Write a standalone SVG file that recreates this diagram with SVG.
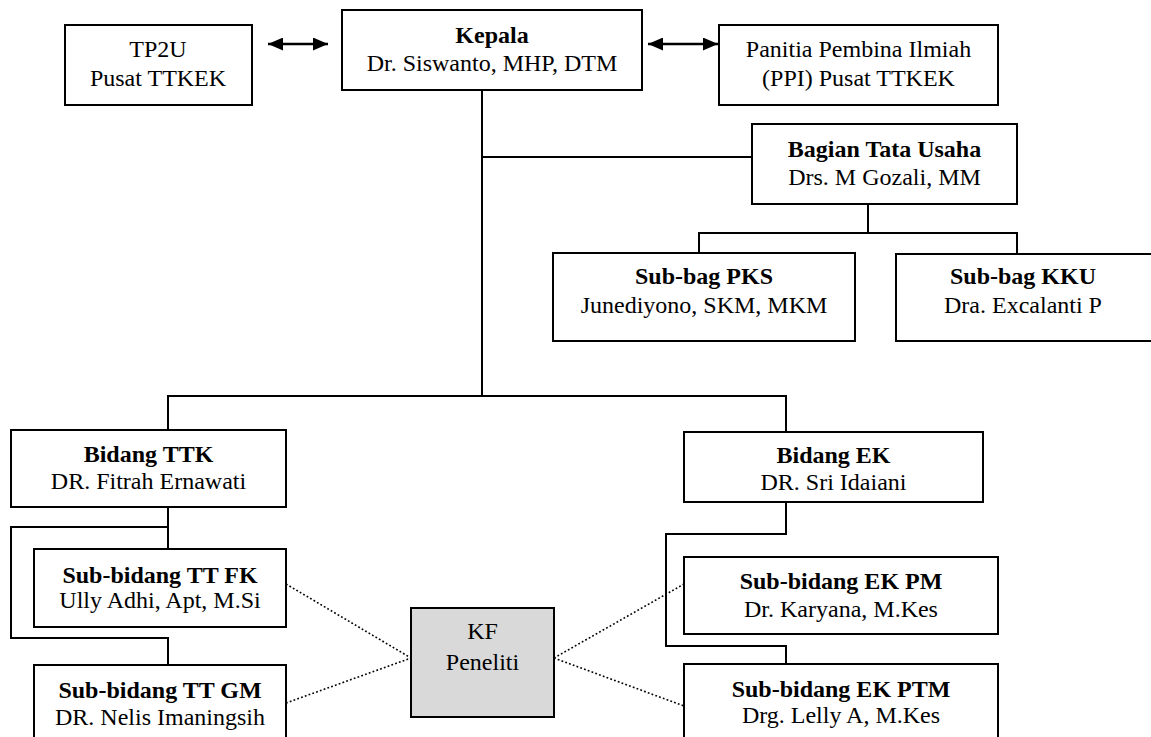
<svg xmlns="http://www.w3.org/2000/svg" width="1151" height="737" viewBox="0 0 1151 737">
<style>
.box{fill:#fff;stroke:#000;stroke-width:2}
.kf{fill:#d9d9d9;stroke:#000;stroke-width:2}
.ln{fill:none;stroke:#000;stroke-width:2}
.dot{fill:none;stroke:#000;stroke-width:1.6;stroke-dasharray:1.8 2.2}
.arr{fill:none;stroke:#000;stroke-width:2.5;marker-start:url(#ah);marker-end:url(#ah)}
text{font-family:"Liberation Serif","Times New Roman",serif;font-size:24px;text-anchor:middle;fill:#000}
.b{font-weight:bold}
</style>
<defs>
<marker id="ah" viewBox="0 0 15 13" refX="15" refY="6.5" markerWidth="15" markerHeight="13" orient="auto-start-reverse" markerUnits="userSpaceOnUse">
<path d="M0,0 L15,6.5 L0,13 z" fill="#000"/>
</marker>
</defs>
<rect width="1151" height="737" fill="#fff"/>
<g id="connectors">
<line class="arr" x1="268" y1="44" x2="328" y2="44"/>
<line class="arr" x1="648" y1="44" x2="718" y2="44"/>
<polyline class="ln" points="482,90 482,396"/>
<polyline class="ln" points="482,157 752,157"/>
<polyline class="ln" points="868,204 868,233"/>
<polyline class="ln" points="699,253 699,233 1017,233 1017,253"/>
<polyline class="ln" points="168,430 168,396 786,396 786,432"/>
<polyline class="ln" points="168,507 168,549"/>
<polyline class="ln" points="168,527 11,527 11,638 168,638 168,665"/>
<polyline class="ln" points="786,502 786,534 666,534 666,646 786,646 786,664"/>
<line class="dot" x1="286" y1="584" x2="411" y2="658"/>
<line class="dot" x1="286" y1="703" x2="411" y2="658"/>
<line class="dot" x1="554" y1="658" x2="684" y2="584"/>
<line class="dot" x1="554" y1="658" x2="684" y2="706"/>
</g>
<g id="tp2u">
<rect class="box" x="65" y="25" width="187" height="80"/>
<text x="158" y="57">TP2U</text>
<text x="158" y="86">Pusat TTKEK</text>
</g>
<g id="kepala">
<rect class="box" x="342" y="10" width="300" height="80"/>
<text x="492" y="43" class="b">Kepala</text>
<text x="492" y="71">Dr. Siswanto, MHP, DTM</text>
</g>
<g id="ppi">
<rect class="box" x="719" y="25" width="279" height="80"/>
<text x="858.5" y="57">Panitia Pembina Ilmiah</text>
<text x="858.5" y="86">(PPI) Pusat TTKEK</text>
</g>
<g id="bagian-tu">
<rect class="box" x="752" y="124" width="265" height="80"/>
<text x="884.5" y="157" class="b">Bagian Tata Usaha</text>
<text x="884.5" y="185">Drs. M Gozali, MM</text>
</g>
<g id="subbag-pks">
<rect class="box" x="553" y="253" width="302" height="88"/>
<text x="704" y="284" class="b">Sub-bag PKS</text>
<text x="704" y="313">Junediyono, SKM, MKM</text>
</g>
<g id="subbag-kku">
<rect class="box" x="896" y="254" width="264" height="87"/>
<text x="1023" y="284" class="b">Sub-bag KKU</text>
<text x="1023" y="313">Dra. Excalanti P</text>
</g>
<g id="bidang-ttk">
<rect class="box" x="11" y="430" width="275" height="77"/>
<text x="148.5" y="462" class="b">Bidang TTK</text>
<text x="148.5" y="489">DR. Fitrah Ernawati</text>
</g>
<g id="subbidang-tt-fk">
<rect class="box" x="34" y="549" width="252" height="78"/>
<text x="160" y="583" class="b">Sub-bidang TT FK</text>
<text x="160" y="608">Ully Adhi, Apt, M.Si</text>
</g>
<g id="subbidang-tt-gm">
<rect class="box" x="34" y="665" width="252" height="90"/>
<text x="160" y="698" class="b">Sub-bidang TT GM</text>
<text x="160" y="725">DR. Nelis Imaningsih</text>
</g>
<g id="kf-peneliti">
<rect class="kf" x="411" y="608" width="143" height="109"/>
<text x="482.5" y="639">KF</text>
<text x="482.5" y="670">Peneliti</text>
</g>
<g id="bidang-ek">
<rect class="box" x="684" y="432" width="299" height="70"/>
<text x="833.5" y="463" class="b">Bidang EK</text>
<text x="833.5" y="490">DR. Sri Idaiani</text>
</g>
<g id="subbidang-ek-pm">
<rect class="box" x="684" y="557" width="314" height="77"/>
<text x="841" y="589" class="b">Sub-bidang EK PM</text>
<text x="841" y="617">Dr. Karyana, M.Kes</text>
</g>
<g id="subbidang-ek-ptm">
<rect class="box" x="684" y="664" width="314" height="90"/>
<text x="841" y="697" class="b">Sub-bidang EK PTM</text>
<text x="841" y="723">Drg. Lelly A, M.Kes</text>
</g>
</svg>
